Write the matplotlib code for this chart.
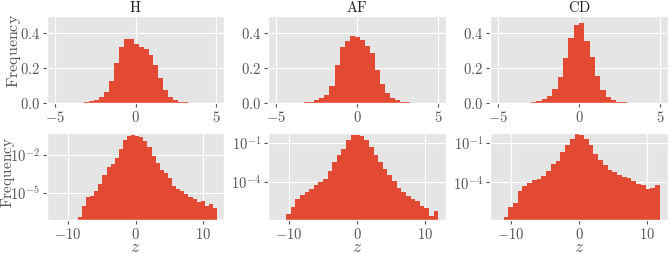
import numpy as np
import matplotlib
matplotlib.use("Agg")
import matplotlib.pyplot as plt
from matplotlib.ticker import FuncFormatter, FixedLocator, NullLocator

plt.style.use("ggplot")
plt.rcParams["mathtext.fontset"] = "cm"
plt.rcParams["font.family"] = ["DejaVu Serif"]

panels = ["H", "AF", "CD"]

# ---- top row: linear density histograms (bin start, bin width, heights)
top_start = {"H": -3.49, "AF": -3.87, "CD": -3.30}
top_width = {"H": 0.307, "AF": 0.31, "CD": 0.33}
top_H = [0.002, 0.005, 0.012, 0.02, 0.035, 0.063, 0.127, 0.23, 0.32, 0.37, 0.37,
         0.34, 0.32, 0.31, 0.276, 0.22, 0.143, 0.076, 0.038, 0.019, 0.01, 0.005, 0.002]
top_AF = [0.002, 0.003, 0.006, 0.01, 0.018, 0.028, 0.047, 0.097, 0.22, 0.32, 0.358,
          0.385, 0.378, 0.36, 0.33, 0.29, 0.19, 0.11, 0.06, 0.033, 0.018, 0.01,
          0.005, 0.003, 0.002]
top_CD = [0.003, 0.006, 0.012, 0.023, 0.042, 0.083, 0.152, 0.257, 0.375, 0.447,
          0.461, 0.356, 0.263, 0.156, 0.076, 0.034, 0.018, 0.01, 0.005, 0.003, 0.002]
top_vals = {"H": top_H, "AF": top_AF, "CD": top_CD}

# ---- bottom row: log-scale density histograms (log10 of heights)
bot_start = {"H": -8.53, "AF": -10.43, "CD": -11.11}
bot_width = {"H": 0.606, "AF": 0.678, "CD": 0.697}
bot_H_log10 = [-6.95, -6.03, -5.37, -5.24, -4.87, -4.34, -3.61, -2.95, -2.74, -2.29,
               -1.56, -0.85, -0.50, -0.45, -0.50, -0.58, -0.90, -1.42, -2.08, -2.69,
               -3.21, -3.42, -3.87, -4.45, -4.72, -4.87, -5.11, -5.37, -5.50, -5.76,
               -5.63, -6.06, -5.92, -6.24]
bot_AF_log10 = [-6.54, -5.95, -5.38, -5.05, -4.82, -4.56, -4.28, -4.05, -3.79, -3.15,
                -2.51, -1.97, -1.46, -0.77, -0.42, -0.38, -0.45, -0.82, -1.33, -1.92,
                -2.48, -3.00, -3.46, -3.97, -4.48, -4.82, -5.12, -5.33, -5.51, -5.90,
                -6.02, -6.66, -6.28]
bot_CD_log10 = [-6.63, -5.85, -5.57, -4.68, -4.26, -4.05, -3.80, -3.75, -3.55, -3.12,
                -2.59, -2.41, -1.70, -1.15, -0.70, -0.34, -0.39, -0.70, -1.20, -1.83,
                -2.33, -2.71, -3.05, -3.22, -3.47, -3.62, -3.67, -3.88, -4.11, -4.23,
                -4.48, -4.43, -4.18]
bot_vals = {"H": bot_H_log10, "AF": bot_AF_log10, "CD": bot_CD_log10}

top_xticks = [-5, 0, 5]
top_yticks = [0.0, 0.2, 0.4]
bot_xticks = [-10, 0, 10]
bot_yticks_exp = {"H": [-5, -2], "AF": [-4, -1], "CD": [-4, -1]}
bot_ylim_exp = {"H": (-7.19, -0.30), "AF": (-7.0, -0.25), "CD": (-6.86, -0.27)}

bar_color = "#E24A33"
txt_color = "#555555"

W, Hpx = 670, 254
fig = plt.figure(figsize=(W / 100, Hpx / 100), dpi=100)

col_px = {"H": (47, 224), "AF": (268, 446), "CD": (490, 668)}
top_row_px = (16, 103.3)
bot_row_px = (133, 220.3)


def make_ax(cols, rows):
    x0, x1 = cols
    y0, y1 = rows
    return fig.add_axes([x0 / W, 1 - y1 / Hpx, (x1 - x0) / W, (y1 - y0) / Hpx])


lin_fmt_x = FuncFormatter(lambda v, p: r"$%d$" % v)
lin_fmt_y = FuncFormatter(lambda v, p: r"$%.1f$" % v)
log_fmt = FuncFormatter(lambda v, p: r"$10^{%d}$" % int(round(np.log10(v))))

TICK_FS = 10.5

for i, name in enumerate(panels):
    # top row
    ax = make_ax(col_px[name], top_row_px)
    vals = np.array(top_vals[name])
    edges = top_start[name] + top_width[name] * np.arange(len(vals) + 1)
    ax.hist(edges[:-1], bins=edges, weights=vals, color=bar_color)
    ax.set_xlim(-5.5, 5.5)
    ax.set_ylim(0, 0.5)
    ax.xaxis.set_major_locator(FixedLocator(top_xticks))
    ax.yaxis.set_major_locator(FixedLocator(top_yticks))
    ax.xaxis.set_major_formatter(lin_fmt_x)
    ax.yaxis.set_major_formatter(lin_fmt_y)
    ax.set_title(r"$\mathrm{%s}$" % name, fontsize=10.5, pad=3, color="#222222")
    if i == 0:
        lab = ax.set_ylabel(r"$\mathrm{Frequency}$", fontsize=11.5, color=txt_color)
        ax.yaxis.set_label_coords(-0.185, 0.60)
        lab.set_va("center")
    ax.tick_params(labelsize=TICK_FS, colors=txt_color, length=3, pad=2)

    # bottom row
    ax = make_ax(col_px[name], bot_row_px)
    vals = 10.0 ** np.array(bot_vals[name])
    edges = bot_start[name] + bot_width[name] * np.arange(len(vals) + 1)
    ax.set_yscale("log")
    ax.hist(edges[:-1], bins=edges, weights=vals, color=bar_color,
            bottom=1e-12)
    ax.set_xlim(-13.1, 13.1)
    lo, hi = bot_ylim_exp[name]
    ax.set_ylim(10.0 ** lo, 10.0 ** hi)
    ax.xaxis.set_major_locator(FixedLocator(bot_xticks))
    ax.yaxis.set_major_locator(FixedLocator([10.0 ** e for e in bot_yticks_exp[name]]))
    ax.yaxis.set_minor_locator(NullLocator())
    ax.xaxis.set_major_formatter(lin_fmt_x)
    ax.yaxis.set_major_formatter(log_fmt)
    xl = ax.set_xlabel(r"$z$", fontsize=12.5, color=txt_color)
    ax.xaxis.set_label_coords(0.5, -0.36)
    xl.set_va("baseline")
    if i == 0:
        lab = ax.set_ylabel(r"$\mathrm{Frequency}$", fontsize=11, color=txt_color)
        ax.yaxis.set_label_coords(-0.222, 0.55)
        lab.set_va("center")
    ax.tick_params(labelsize=TICK_FS, colors=txt_color, length=3, pad=2)
    ax.tick_params(which="minor", length=0)

fig.savefig("out.png", dpi=100)
